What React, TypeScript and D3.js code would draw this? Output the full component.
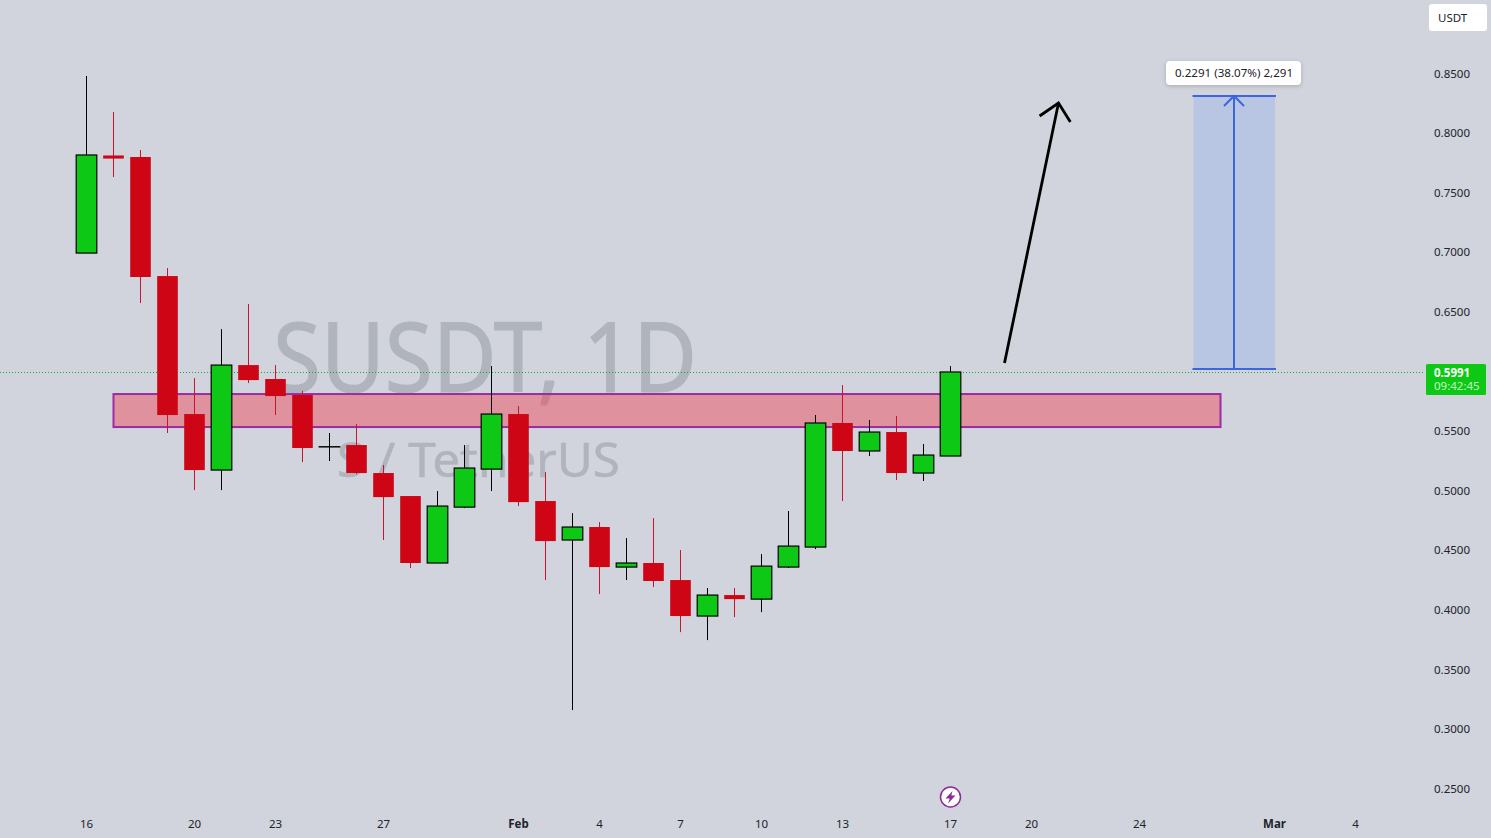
import React, { useEffect, useRef } from "react";
import * as d3 from "d3";

const WIDTH = 1491;
const HEIGHT = 838;
const FONT = "'Noto Sans', sans-serif";

const BG = "#D1D4DC";
const UP = "#0DC915";
const DOWN = "#CE0515";
const DOWN_WICK = "#C8142C";
const BLUE = "#3D66DE";
const INK = "#20232B";

// one candle per day, index 0 is Jan 16
const opens = [
  0.6989, 0.7808, 0.7795, 0.6796, 0.5638, 0.5168, 0.6049, 0.5932, 0.5798, 0.5362, 0.5378,
  0.5143, 0.495, 0.4388, 0.4857, 0.5176, 0.5638, 0.4908, 0.4581, 0.469, 0.4354, 0.4388,
  0.4245, 0.3943, 0.4119, 0.4085, 0.4354, 0.4522, 0.5563, 0.5328, 0.5487, 0.5143, 0.5286,
];
const highs = [
  0.8475, 0.8173, 0.7854, 0.6863, 0.594, 0.6351, 0.6561, 0.6049, 0.5831, 0.5479, 0.5554,
  0.521, 0.495, 0.4992, 0.5378, 0.6041, 0.5705, 0.5151, 0.4807, 0.4732, 0.4597, 0.4765,
  0.4497, 0.4178, 0.4178, 0.4463, 0.4824, 0.563, 0.5881, 0.5588, 0.5621, 0.5386, 0.6041,
];
const lows = [
  0.6989, 0.7627, 0.657, 0.5479, 0.5, 0.5, 0.5898, 0.563, 0.5235, 0.5244, 0.5135, 0.4581,
  0.4346, 0.4388, 0.4849, 0.4992, 0.4866, 0.4245, 0.3154, 0.4127, 0.4245, 0.4186, 0.3808,
  0.3741, 0.3934, 0.3976, 0.4346, 0.4505, 0.4908, 0.5286, 0.5084, 0.5076, 0.5286,
];
const closes = [
  0.7812, 0.7782, 0.6788, 0.563, 0.5168, 0.6049, 0.5923, 0.5789, 0.5353, 0.5364, 0.5143,
  0.4941, 0.4388, 0.4866, 0.5185, 0.5638, 0.4899, 0.4572, 0.469, 0.4354, 0.4388, 0.4237,
  0.3943, 0.4119, 0.4085, 0.4362, 0.453, 0.5563, 0.5328, 0.5487, 0.5143, 0.5294, 0.5991,
];

const priceTicks = [0.85, 0.8, 0.75, 0.7, 0.65, 0.55, 0.5, 0.45, 0.4, 0.35, 0.3, 0.25];
const dayTicks = [0, 4, 7, 11, 16, 19, 22, 25, 28, 32, 35, 39, 44, 47];
const dayLabels = ["16", "20", "23", "27", "Feb", "4", "7", "10", "13", "17", "20", "24", "Mar", "4"];
const boldDays = ["Feb", "Mar"];

const lastPrice = 0.5991;
const zoneDays = [1, 42];
const zonePrices = [0.5806, 0.5529];
const measureDays = [41, 44];
const measurePrices = [0.6016, 0.8307];

// black hand drawn arrow: [day, price]
const arrowShaft = [[34, 0.6066], [36, 0.8248]];
const arrowHead = [[35.3, 0.8139], [36, 0.8248], [36.44, 0.8089]];

const App = () => {
  const ref = useRef<SVGSVGElement>(null);

  useEffect(() => {
    const svg = d3.select(ref.current);
    svg.selectAll("*").remove();

    const x = d3.scaleLinear().domain([0, 32]).range([86.5, 950.5]);
    const y = d3.scaleLinear().domain([0.85, 0.25]).range([73, 788]);
    const bandWidth = 21;

    svg.append("rect").attr("width", WIDTH).attr("height", HEIGHT).attr("fill", BG);

    // watermark
    const mark = svg.append("g")
      .attr("text-anchor", "middle")
      .attr("fill", "#B0B4BC")
      .attr("stroke", "#B0B4BC")
      .attr("font-family", FONT);
    mark.append("text")
      .attr("x", 485)
      .attr("y", 392)
      .attr("font-size", 96)
      .attr("stroke-width", 1.2)
      .attr("textLength", 424)
      .attr("lengthAdjust", "spacingAndGlyphs")
      .text("SUSDT, 1D");
    mark.append("text")
      .attr("x", 478.5)
      .attr("y", 477)
      .attr("font-size", 47)
      .attr("stroke-width", 0.5)
      .attr("textLength", 283)
      .attr("lengthAdjust", "spacingAndGlyphs")
      .text("S / TetherUS");

    // last price line
    svg.append("line")
      .attr("x1", 0)
      .attr("x2", 1425)
      .attr("y1", y(lastPrice) + 0.5)
      .attr("y2", y(lastPrice) + 0.5)
      .attr("stroke", "#12A82A")
      .attr("stroke-dasharray", "1 2");

    // support zone
    svg.append("rect")
      .attr("x", x(zoneDays[0]))
      .attr("y", y(zonePrices[0]))
      .attr("width", x(zoneDays[1]) - x(zoneDays[0]))
      .attr("height", y(zonePrices[1]) - y(zonePrices[0]))
      .attr("fill", "rgba(242,54,69,0.42)")
      .attr("stroke", "#9C2BA6")
      .attr("stroke-width", 2);

    // candles
    const days = d3.range(opens.length);
    const candles = svg.append("g").selectAll("g").data(days).enter().append("g");

    candles.append("line")
      .attr("x1", (i) => x(i))
      .attr("x2", (i) => x(i))
      .attr("y1", (i) => y(highs[i]))
      .attr("y2", (i) => y(lows[i]))
      .attr("stroke", (i) => (closes[i] >= opens[i] ? "#000" : DOWN_WICK))
      .attr("stroke-width", 1);

    candles.append("rect")
      .attr("x", (i) => x(i) - bandWidth / 2 + 0.2)
      .attr("width", bandWidth - 0.4)
      .attr("y", (i) => y(Math.max(opens[i], closes[i])))
      .attr("height", (i) => Math.abs(y(opens[i]) - y(closes[i])))
      .attr("fill", (i) => (closes[i] >= opens[i] ? UP : DOWN))
      .attr("stroke", (i) => (closes[i] >= opens[i] ? "#000" : "none"))
      .attr("stroke-width", 1.2);

    // long position measure
    const mx0 = x(measureDays[0]);
    const mx1 = x(measureDays[1]);
    const mMid = (mx0 + mx1) / 2;
    const mBottom = y(measurePrices[0]);
    const mTop = y(measurePrices[1]);
    svg.append("rect")
      .attr("x", mx0)
      .attr("y", mTop)
      .attr("width", mx1 - mx0 + 0.5)
      .attr("height", mBottom - mTop)
      .attr("fill", "#B8C5E3");
    const measure = svg.append("g")
      .attr("stroke", BLUE)
      .attr("stroke-width", 2)
      .attr("fill", "none");
    measure.append("line").attr("x1", mx0 - 1).attr("x2", mx1 + 1.5).attr("y1", mTop).attr("y2", mTop);
    measure.append("line").attr("x1", mx0 - 1).attr("x2", mx1 + 1.5).attr("y1", mBottom).attr("y2", mBottom);
    measure.append("line").attr("x1", mMid).attr("x2", mMid).attr("y1", mTop).attr("y2", mBottom);
    measure.append("path").attr("d", `M${mMid - 10},${mTop + 10}L${mMid},${mTop}L${mMid + 10},${mTop + 10}`);

    const tag = svg.append("g").attr("transform", `translate(${mMid},${mTop - 23})`);
    tag.append("rect")
      .attr("x", -68)
      .attr("y", -12)
      .attr("width", 135)
      .attr("height", 24)
      .attr("rx", 4)
      .attr("fill", "#fff")
      .style("filter", "drop-shadow(0 1px 2px rgba(0,0,0,0.2))");
    tag.append("text")
      .attr("text-anchor", "middle")
      .attr("x", 0)
      .attr("y", 4)
      .attr("font-family", FONT)
      .attr("font-size", 11.6)
      .attr("fill", INK)
      .text("0.2291 (38.07%) 2,291");

    // arrow
    const line = d3.line<number[]>().x((d) => x(d[0])).y((d) => y(d[1]));
    const arrow = svg.append("g").attr("fill", "none").attr("stroke", "#000").attr("stroke-width", 2.8);
    arrow.append("path").attr("d", line(arrowShaft));
    arrow.append("path").attr("d", line(arrowHead));

    // axes
    const yAxis = svg.append("g")
      .attr("transform", "translate(1434,0.5)")
      .call(d3.axisRight(y).tickValues(priceTicks).tickSize(0).tickPadding(0).tickFormat(d3.format(".4f")));
    const xAxis = svg.append("g")
      .attr("transform", "translate(-0.5,820)")
      .call(
        d3.axisBottom(x)
          .tickValues(dayTicks)
          .tickSize(0)
          .tickPadding(0)
          .tickFormat((d, i) => dayLabels[i])
      );
    [yAxis, xAxis].forEach((axis) => {
      axis.select(".domain").remove();
      axis.selectAll("text").attr("font-family", FONT).attr("font-size", 11.5).attr("fill", INK);
    });
    xAxis.selectAll("text")
      .attr("font-weight", (d, i) => (boldDays.includes(dayLabels[i]) ? 700 : 400));

    // price label and currency button
    const priceTag = svg.append("g").attr("font-family", FONT);
    priceTag.append("rect")
      .attr("x", 1426)
      .attr("y", y(lastPrice) - 8)
      .attr("width", 60)
      .attr("height", 31)
      .attr("rx", 1.5)
      .attr("fill", UP);
    priceTag.append("text")
      .attr("x", 1434)
      .attr("y", y(lastPrice) + 5)
      .attr("font-size", 11.5)
      .attr("font-weight", 700)
      .attr("fill", "#fff")
      .text(d3.format(".4f")(lastPrice));
    priceTag.append("text")
      .attr("x", 1434)
      .attr("y", y(lastPrice) + 18)
      .attr("font-size", 11.5)
      .attr("fill", "#C4F5C6")
      .text("09:42:45");

    svg.append("rect")
      .attr("x", 1429)
      .attr("y", 4)
      .attr("width", 58)
      .attr("height", 27)
      .attr("rx", 3)
      .attr("fill", "#fff");
    svg.append("text")
      .attr("x", 1438)
      .attr("y", 21.5)
      .attr("font-family", FONT)
      .attr("font-size", 11.5)
      .attr("fill", INK)
      .text("USDT");

    // lightning marker over the last day
    const bolt = svg.append("g").attr("transform", `translate(${x(32)},797)`);
    bolt.append("circle").attr("r", 10).attr("fill", "#fff").attr("stroke", "#8E2A9C").attr("stroke-width", 1.5);
    bolt.append("path").attr("d", "M2,-6L-5,1.5H-0.8L-2.5,6.5L5,-1.5H0.8Z").attr("fill", "#8E2A9C");
  }, []);

  return (
    <svg
      ref={ref}
      width={WIDTH}
      height={HEIGHT}
      style={{ position: "fixed", left: 0, top: 0, display: "block" }}
    />
  );
};

export default App;
